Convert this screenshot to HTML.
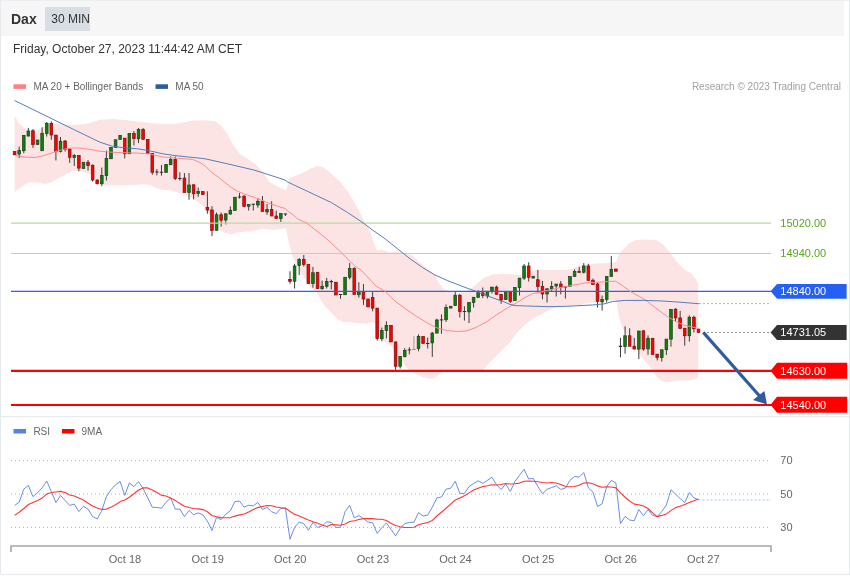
<!DOCTYPE html>
<html><head><meta charset="utf-8"><title>Dax 30 MIN</title>
<style>
html,body{margin:0;padding:0;background:#fff}
body{width:850px;height:576px;position:relative;overflow:hidden;font-family:"Liberation Sans",sans-serif}
svg text{font-family:"Liberation Sans",sans-serif}
.frame{position:absolute;left:0;top:0;width:848px;height:573px;border:1px solid #e6eaee;border-top-color:#eceff2}
.hdr{position:absolute;left:1px;top:1px;width:843px;height:35px;background:#f6f6f6}
.ttl{position:absolute;left:11px;top:11px;font-size:14px;font-weight:bold;color:#333;line-height:16px}
.btn{position:absolute;left:45px;top:7px;width:38.7px;padding-left:6.3px;height:24px;background:#d9dde4;color:#333;font-size:12px;line-height:24px;white-space:nowrap}
.date{position:absolute;left:13px;top:41px;font-size:12px;color:#333;line-height:16px}
</style></head><body>
<div class="frame"></div>
<div class="hdr"></div>
<div class="ttl">Dax</div>
<div class="btn">30 MIN</div>
<div class="date">Friday, October 27, 2023 11:44:42 AM CET</div>
<svg width="850" height="576" viewBox="0 0 850 576" style="position:absolute;left:0;top:0">
<polygon points="14.60,115.40 18.75,122.90 25.00,128.50 30.00,131.00 35.00,131.50 42.00,128.00 48.00,124.00 53.75,122.90 65.00,124.50 75.00,125.00 87.50,123.50 97.50,120.40 100.00,119.75 112.50,119.00 125.00,120.00 137.50,121.50 150.00,123.10 162.50,124.00 175.00,123.75 180.00,123.10 192.50,120.60 205.00,120.25 215.00,121.25 221.25,125.60 227.50,134.40 233.75,145.60 240.00,153.75 247.50,158.75 255.00,163.75 261.25,170.00 270.00,182.50 285.00,190.00 286.25,190.00 289.40,178.10 297.50,175.00 303.75,172.50 310.00,168.75 317.50,166.25 322.50,166.90 328.75,171.25 335.00,176.90 341.25,183.10 347.50,191.25 353.75,201.25 360.00,212.50 363.75,220.00 369.40,230.00 373.75,242.50 376.90,250.60 381.25,249.40 388.75,252.25 397.50,251.25 403.75,253.10 412.50,255.60 420.00,262.50 427.50,268.75 435.00,275.00 438.75,282.50 442.50,288.10 450.00,291.90 457.00,293.20 465.00,291.50 471.00,288.75 477.50,283.10 483.75,278.10 492.50,274.40 502.50,273.75 515.00,274.40 521.00,275.00 527.00,272.00 532.50,270.60 540.00,269.40 546.00,270.00 555.00,270.00 567.50,270.00 573.75,268.10 580.00,265.60 586.25,264.40 592.50,263.75 605.00,263.10 611.25,262.50 616.25,261.90 618.75,255.00 622.25,250.60 628.50,243.75 634.75,240.25 643.50,239.40 656.00,240.00 662.25,243.75 668.50,250.60 673.50,256.90 678.50,263.75 684.75,270.00 691.00,273.10 696.00,279.40 698.25,283.75 698.25,376.90 696.00,378.75 691.00,380.25 681.00,380.25 673.50,381.25 666.00,382.50 661.00,380.60 656.00,376.25 651.00,368.10 646.00,362.50 641.00,356.25 634.00,347.00 628.00,337.00 622.25,327.25 618.50,314.75 616.60,302.25 615.80,300.00 604.60,301.20 589.60,302.50 579.70,305.00 564.70,306.20 554.70,307.50 544.70,312.40 534.80,317.40 524.80,324.90 517.30,332.40 509.80,342.40 499.80,352.40 489.90,362.30 483.60,369.80 475.00,371.00 460.00,371.50 442.50,372.00 440.00,373.75 435.00,378.10 430.00,379.00 422.50,376.90 413.75,372.75 409.50,370.00 405.60,366.60 402.30,361.30 400.00,360.50 395.60,356.00 392.50,348.00 389.00,344.00 384.00,341.50 379.50,337.00 377.00,329.00 375.00,323.00 372.00,321.80 367.50,323.75 356.25,323.10 350.00,321.90 343.75,322.50 337.50,319.40 331.25,312.50 325.00,306.25 320.00,298.75 316.25,291.25 311.25,288.75 305.00,278.75 298.75,268.75 292.50,256.25 288.10,240.00 286.00,228.00 275.00,229.75 270.00,229.40 262.50,228.75 256.25,230.00 250.00,231.25 237.50,232.50 231.25,234.40 225.00,233.10 218.75,230.00 212.50,220.00 206.00,208.75 200.00,203.75 195.00,200.00 187.50,195.60 177.50,192.50 170.00,190.00 162.50,190.00 156.25,188.10 150.00,185.25 143.75,184.00 137.50,184.75 125.00,185.25 112.50,185.25 100.00,184.75 95.00,179.00 90.00,173.75 85.00,172.50 75.00,170.60 70.00,171.90 62.50,176.00 56.00,179.40 50.00,183.10 46.00,184.00 37.50,182.50 30.00,181.90 25.00,184.40 18.75,188.75 14.60,192.00" fill="#fde4e4"/>
<line x1="14.60" x2="14.60" y1="151.50" y2="155.00" stroke="#3c3c3c" stroke-width="1"/>
<rect x="13.25" y="151.60" width="2.7" height="3.15" fill="#ff0000" stroke="#7a1010" stroke-width="0.7"/>
<line x1="19.19" x2="19.19" y1="146.60" y2="158.10" stroke="#3c3c3c" stroke-width="1"/>
<rect x="17.84" y="150.40" width="2.7" height="3.70" fill="#0a820a" stroke="#1f3d1f" stroke-width="0.7"/>
<line x1="23.78" x2="23.78" y1="135.40" y2="153.25" stroke="#3c3c3c" stroke-width="1"/>
<rect x="22.43" y="135.40" width="2.7" height="15.35" fill="#0a820a" stroke="#1f3d1f" stroke-width="0.7"/>
<line x1="28.37" x2="28.37" y1="127.90" y2="136.60" stroke="#3c3c3c" stroke-width="1"/>
<rect x="27.02" y="131.00" width="2.7" height="5.00" fill="#0a820a" stroke="#1f3d1f" stroke-width="0.7"/>
<line x1="32.96" x2="32.96" y1="129.10" y2="147.90" stroke="#3c3c3c" stroke-width="1"/>
<rect x="31.61" y="130.75" width="2.7" height="13.75" fill="#ff0000" stroke="#7a1010" stroke-width="0.7"/>
<line x1="37.55" x2="37.55" y1="140.00" y2="144.50" stroke="#3c3c3c" stroke-width="1"/>
<rect x="36.20" y="140.00" width="2.7" height="4.50" fill="#0a820a" stroke="#1f3d1f" stroke-width="0.7"/>
<line x1="42.14" x2="42.14" y1="127.25" y2="150.75" stroke="#3c3c3c" stroke-width="1"/>
<rect x="40.79" y="133.25" width="2.7" height="17.50" fill="#0a820a" stroke="#1f3d1f" stroke-width="0.7"/>
<line x1="46.73" x2="46.73" y1="122.00" y2="136.60" stroke="#3c3c3c" stroke-width="1"/>
<rect x="45.38" y="123.50" width="2.7" height="10.00" fill="#0a820a" stroke="#1f3d1f" stroke-width="0.7"/>
<line x1="51.32" x2="51.32" y1="121.40" y2="139.75" stroke="#3c3c3c" stroke-width="1"/>
<rect x="49.97" y="123.50" width="2.7" height="11.50" fill="#ff0000" stroke="#7a1010" stroke-width="0.7"/>
<line x1="55.91" x2="55.91" y1="135.10" y2="160.40" stroke="#3c3c3c" stroke-width="1"/>
<rect x="54.56" y="135.10" width="2.7" height="16.50" fill="#ff0000" stroke="#7a1010" stroke-width="0.7"/>
<line x1="60.50" x2="60.50" y1="137.00" y2="152.50" stroke="#3c3c3c" stroke-width="1"/>
<rect x="59.15" y="141.25" width="2.7" height="10.15" fill="#0a820a" stroke="#1f3d1f" stroke-width="0.7"/>
<line x1="65.09" x2="65.09" y1="140.00" y2="151.60" stroke="#3c3c3c" stroke-width="1"/>
<rect x="63.74" y="141.00" width="2.7" height="8.50" fill="#ff0000" stroke="#7a1010" stroke-width="0.7"/>
<line x1="69.68" x2="69.68" y1="148.50" y2="162.90" stroke="#3c3c3c" stroke-width="1"/>
<rect x="68.33" y="149.10" width="2.7" height="8.15" fill="#ff0000" stroke="#7a1010" stroke-width="0.7"/>
<line x1="74.27" x2="74.27" y1="154.10" y2="166.00" stroke="#3c3c3c" stroke-width="1"/>
<rect x="72.92" y="155.40" width="2.7" height="2.10" fill="#0a820a" stroke="#1f3d1f" stroke-width="0.7"/>
<line x1="78.86" x2="78.86" y1="155.40" y2="171.25" stroke="#3c3c3c" stroke-width="1"/>
<rect x="77.51" y="155.40" width="2.7" height="12.70" fill="#ff0000" stroke="#7a1010" stroke-width="0.7"/>
<line x1="83.45" x2="83.45" y1="162.25" y2="168.50" stroke="#3c3c3c" stroke-width="1"/>
<rect x="82.10" y="162.25" width="2.7" height="6.25" fill="#0a820a" stroke="#1f3d1f" stroke-width="0.7"/>
<line x1="88.04" x2="88.04" y1="160.00" y2="170.60" stroke="#3c3c3c" stroke-width="1"/>
<rect x="86.69" y="162.25" width="2.7" height="3.35" fill="#ff0000" stroke="#7a1010" stroke-width="0.7"/>
<line x1="92.63" x2="92.63" y1="164.40" y2="181.50" stroke="#3c3c3c" stroke-width="1"/>
<rect x="91.28" y="165.25" width="2.7" height="14.75" fill="#ff0000" stroke="#7a1010" stroke-width="0.7"/>
<line x1="97.22" x2="97.22" y1="179.40" y2="184.40" stroke="#3c3c3c" stroke-width="1"/>
<rect x="95.87" y="180.00" width="2.7" height="3.75" fill="#ff0000" stroke="#7a1010" stroke-width="0.7"/>
<line x1="101.81" x2="101.81" y1="167.50" y2="186.25" stroke="#3c3c3c" stroke-width="1"/>
<rect x="100.46" y="175.60" width="2.7" height="8.15" fill="#0a820a" stroke="#1f3d1f" stroke-width="0.7"/>
<line x1="106.40" x2="106.40" y1="150.60" y2="180.60" stroke="#3c3c3c" stroke-width="1"/>
<rect x="105.05" y="158.50" width="2.7" height="17.10" fill="#0a820a" stroke="#1f3d1f" stroke-width="0.7"/>
<line x1="110.99" x2="110.99" y1="147.50" y2="158.75" stroke="#3c3c3c" stroke-width="1"/>
<rect x="109.64" y="147.50" width="2.7" height="11.25" fill="#0a820a" stroke="#1f3d1f" stroke-width="0.7"/>
<line x1="115.58" x2="115.58" y1="139.75" y2="147.50" stroke="#3c3c3c" stroke-width="1"/>
<rect x="114.23" y="139.75" width="2.7" height="7.75" fill="#0a820a" stroke="#1f3d1f" stroke-width="0.7"/>
<line x1="120.17" x2="120.17" y1="135.40" y2="139.40" stroke="#3c3c3c" stroke-width="1"/>
<rect x="118.82" y="135.40" width="2.7" height="4.00" fill="#0a820a" stroke="#1f3d1f" stroke-width="0.7"/>
<line x1="124.76" x2="124.76" y1="138.10" y2="158.50" stroke="#3c3c3c" stroke-width="1"/>
<rect x="123.41" y="138.10" width="2.7" height="15.65" fill="#ff0000" stroke="#7a1010" stroke-width="0.7"/>
<line x1="129.35" x2="129.35" y1="133.40" y2="153.75" stroke="#3c3c3c" stroke-width="1"/>
<rect x="128.00" y="133.40" width="2.7" height="20.35" fill="#0a820a" stroke="#1f3d1f" stroke-width="0.7"/>
<line x1="133.94" x2="133.94" y1="131.00" y2="145.40" stroke="#3c3c3c" stroke-width="1"/>
<rect x="132.59" y="133.40" width="2.7" height="5.10" fill="#ff0000" stroke="#7a1010" stroke-width="0.7"/>
<line x1="138.53" x2="138.53" y1="128.10" y2="143.10" stroke="#3c3c3c" stroke-width="1"/>
<rect x="137.18" y="129.60" width="2.7" height="9.15" fill="#0a820a" stroke="#1f3d1f" stroke-width="0.7"/>
<line x1="143.12" x2="143.12" y1="128.10" y2="139.40" stroke="#3c3c3c" stroke-width="1"/>
<rect x="141.77" y="129.60" width="2.7" height="9.80" fill="#ff0000" stroke="#7a1010" stroke-width="0.7"/>
<line x1="147.71" x2="147.71" y1="139.40" y2="153.50" stroke="#3c3c3c" stroke-width="1"/>
<rect x="146.36" y="139.40" width="2.7" height="14.10" fill="#ff0000" stroke="#7a1010" stroke-width="0.7"/>
<line x1="152.30" x2="152.30" y1="153.50" y2="174.75" stroke="#3c3c3c" stroke-width="1"/>
<rect x="150.95" y="153.50" width="2.7" height="18.75" fill="#ff0000" stroke="#7a1010" stroke-width="0.7"/>
<line x1="156.89" x2="156.89" y1="169.00" y2="175.40" stroke="#3c3c3c" stroke-width="1"/>
<rect x="155.19" y="171.50" width="3.4" height="1.00" fill="#3a2a2a"/>
<line x1="161.48" x2="161.48" y1="165.00" y2="175.60" stroke="#3c3c3c" stroke-width="1"/>
<rect x="159.78" y="171.75" width="3.4" height="1.00" fill="#3a2a2a"/>
<line x1="166.07" x2="166.07" y1="164.40" y2="172.50" stroke="#3c3c3c" stroke-width="1"/>
<rect x="164.72" y="164.40" width="2.7" height="8.10" fill="#0a820a" stroke="#1f3d1f" stroke-width="0.7"/>
<line x1="170.66" x2="170.66" y1="156.50" y2="164.75" stroke="#3c3c3c" stroke-width="1"/>
<rect x="169.31" y="159.40" width="2.7" height="5.35" fill="#0a820a" stroke="#1f3d1f" stroke-width="0.7"/>
<line x1="175.25" x2="175.25" y1="156.50" y2="180.00" stroke="#3c3c3c" stroke-width="1"/>
<rect x="173.90" y="159.40" width="2.7" height="19.10" fill="#ff0000" stroke="#7a1010" stroke-width="0.7"/>
<line x1="179.84" x2="179.84" y1="172.25" y2="180.60" stroke="#3c3c3c" stroke-width="1"/>
<rect x="178.14" y="178.00" width="3.4" height="1.00" fill="#3a2a2a"/>
<line x1="184.43" x2="184.43" y1="173.10" y2="192.50" stroke="#3c3c3c" stroke-width="1"/>
<rect x="183.08" y="178.10" width="2.7" height="14.40" fill="#ff0000" stroke="#7a1010" stroke-width="0.7"/>
<line x1="189.02" x2="189.02" y1="173.10" y2="199.75" stroke="#3c3c3c" stroke-width="1"/>
<rect x="187.67" y="185.00" width="2.7" height="7.50" fill="#0a820a" stroke="#1f3d1f" stroke-width="0.7"/>
<line x1="193.61" x2="193.61" y1="184.75" y2="199.40" stroke="#3c3c3c" stroke-width="1"/>
<rect x="192.26" y="184.75" width="2.7" height="9.00" fill="#ff0000" stroke="#7a1010" stroke-width="0.7"/>
<line x1="198.20" x2="198.20" y1="187.50" y2="196.90" stroke="#3c3c3c" stroke-width="1"/>
<rect x="196.85" y="191.50" width="2.7" height="2.00" fill="#0a820a" stroke="#1f3d1f" stroke-width="0.7"/>
<line x1="202.79" x2="202.79" y1="191.50" y2="194.50" stroke="#3c3c3c" stroke-width="1"/>
<rect x="201.44" y="191.50" width="2.7" height="3.00" fill="#ff0000" stroke="#7a1010" stroke-width="0.7"/>
<line x1="207.38" x2="207.38" y1="191.25" y2="213.75" stroke="#3c3c3c" stroke-width="1"/>
<rect x="206.03" y="207.50" width="2.7" height="2.50" fill="#ff0000" stroke="#7a1010" stroke-width="0.7"/>
<line x1="211.97" x2="211.97" y1="206.25" y2="236.25" stroke="#3c3c3c" stroke-width="1"/>
<rect x="210.62" y="210.00" width="2.7" height="20.40" fill="#ff0000" stroke="#7a1010" stroke-width="0.7"/>
<line x1="216.56" x2="216.56" y1="212.50" y2="230.40" stroke="#3c3c3c" stroke-width="1"/>
<rect x="215.21" y="214.75" width="2.7" height="15.65" fill="#0a820a" stroke="#1f3d1f" stroke-width="0.7"/>
<line x1="221.15" x2="221.15" y1="212.50" y2="226.50" stroke="#3c3c3c" stroke-width="1"/>
<rect x="219.80" y="214.75" width="2.7" height="5.50" fill="#ff0000" stroke="#7a1010" stroke-width="0.7"/>
<line x1="225.74" x2="225.74" y1="213.75" y2="224.40" stroke="#3c3c3c" stroke-width="1"/>
<rect x="224.39" y="213.75" width="2.7" height="6.25" fill="#0a820a" stroke="#1f3d1f" stroke-width="0.7"/>
<line x1="230.33" x2="230.33" y1="206.25" y2="214.75" stroke="#3c3c3c" stroke-width="1"/>
<rect x="228.98" y="210.25" width="2.7" height="3.75" fill="#0a820a" stroke="#1f3d1f" stroke-width="0.7"/>
<line x1="234.92" x2="234.92" y1="197.25" y2="210.40" stroke="#3c3c3c" stroke-width="1"/>
<rect x="233.57" y="197.25" width="2.7" height="13.15" fill="#0a820a" stroke="#1f3d1f" stroke-width="0.7"/>
<line x1="239.51" x2="239.51" y1="193.10" y2="198.50" stroke="#3c3c3c" stroke-width="1"/>
<rect x="237.81" y="196.50" width="3.4" height="1.00" fill="#3a2a2a"/>
<line x1="244.10" x2="244.10" y1="195.00" y2="207.25" stroke="#3c3c3c" stroke-width="1"/>
<rect x="242.75" y="196.25" width="2.7" height="10.25" fill="#ff0000" stroke="#7a1010" stroke-width="0.7"/>
<line x1="248.69" x2="248.69" y1="204.40" y2="210.60" stroke="#3c3c3c" stroke-width="1"/>
<rect x="247.34" y="204.40" width="2.7" height="1.85" fill="#0a820a" stroke="#1f3d1f" stroke-width="0.7"/>
<line x1="253.28" x2="253.28" y1="203.75" y2="210.60" stroke="#3c3c3c" stroke-width="1"/>
<rect x="251.58" y="203.75" width="3.4" height="1.00" fill="#3a2a2a"/>
<line x1="257.87" x2="257.87" y1="198.10" y2="207.75" stroke="#3c3c3c" stroke-width="1"/>
<rect x="256.52" y="201.25" width="2.7" height="3.75" fill="#0a820a" stroke="#1f3d1f" stroke-width="0.7"/>
<line x1="262.46" x2="262.46" y1="196.00" y2="211.50" stroke="#3c3c3c" stroke-width="1"/>
<rect x="261.11" y="201.25" width="2.7" height="10.25" fill="#ff0000" stroke="#7a1010" stroke-width="0.7"/>
<line x1="267.05" x2="267.05" y1="204.00" y2="214.75" stroke="#3c3c3c" stroke-width="1"/>
<rect x="265.70" y="209.40" width="2.7" height="2.50" fill="#0a820a" stroke="#1f3d1f" stroke-width="0.7"/>
<line x1="271.64" x2="271.64" y1="201.25" y2="216.00" stroke="#3c3c3c" stroke-width="1"/>
<rect x="270.29" y="209.40" width="2.7" height="6.60" fill="#ff0000" stroke="#7a1010" stroke-width="0.7"/>
<line x1="276.23" x2="276.23" y1="210.60" y2="218.50" stroke="#3c3c3c" stroke-width="1"/>
<rect x="274.88" y="216.00" width="2.7" height="2.50" fill="#ff0000" stroke="#7a1010" stroke-width="0.7"/>
<line x1="280.82" x2="280.82" y1="213.50" y2="221.90" stroke="#3c3c3c" stroke-width="1"/>
<rect x="279.47" y="213.50" width="2.7" height="5.00" fill="#0a820a" stroke="#1f3d1f" stroke-width="0.7"/>
<line x1="285.41" x2="285.41" y1="213.50" y2="216.00" stroke="#3c3c3c" stroke-width="1"/>
<rect x="283.71" y="213.50" width="3.4" height="1.00" fill="#3a2a2a"/>
<line x1="290.00" x2="290.00" y1="271.25" y2="283.75" stroke="#3c3c3c" stroke-width="1"/>
<rect x="288.65" y="279.40" width="2.7" height="1.85" fill="#ff0000" stroke="#7a1010" stroke-width="0.7"/>
<line x1="294.59" x2="294.59" y1="263.75" y2="288.50" stroke="#3c3c3c" stroke-width="1"/>
<rect x="293.24" y="266.00" width="2.7" height="15.25" fill="#0a820a" stroke="#1f3d1f" stroke-width="0.7"/>
<line x1="299.18" x2="299.18" y1="258.10" y2="275.00" stroke="#3c3c3c" stroke-width="1"/>
<rect x="297.83" y="259.40" width="2.7" height="6.20" fill="#0a820a" stroke="#1f3d1f" stroke-width="0.7"/>
<line x1="303.77" x2="303.77" y1="255.00" y2="266.50" stroke="#3c3c3c" stroke-width="1"/>
<rect x="302.42" y="259.40" width="2.7" height="5.00" fill="#ff0000" stroke="#7a1010" stroke-width="0.7"/>
<line x1="308.36" x2="308.36" y1="264.40" y2="283.50" stroke="#3c3c3c" stroke-width="1"/>
<rect x="307.01" y="264.40" width="2.7" height="19.10" fill="#ff0000" stroke="#7a1010" stroke-width="0.7"/>
<line x1="312.95" x2="312.95" y1="266.90" y2="287.75" stroke="#3c3c3c" stroke-width="1"/>
<rect x="311.60" y="272.75" width="2.7" height="10.75" fill="#0a820a" stroke="#1f3d1f" stroke-width="0.7"/>
<line x1="317.54" x2="317.54" y1="272.25" y2="288.50" stroke="#3c3c3c" stroke-width="1"/>
<rect x="316.19" y="272.25" width="2.7" height="16.25" fill="#ff0000" stroke="#7a1010" stroke-width="0.7"/>
<line x1="322.13" x2="322.13" y1="280.60" y2="289.75" stroke="#3c3c3c" stroke-width="1"/>
<rect x="320.78" y="286.25" width="2.7" height="2.50" fill="#0a820a" stroke="#1f3d1f" stroke-width="0.7"/>
<line x1="326.72" x2="326.72" y1="277.90" y2="288.50" stroke="#3c3c3c" stroke-width="1"/>
<rect x="325.37" y="281.60" width="2.7" height="4.65" fill="#0a820a" stroke="#1f3d1f" stroke-width="0.7"/>
<line x1="331.31" x2="331.31" y1="279.75" y2="289.40" stroke="#3c3c3c" stroke-width="1"/>
<rect x="329.61" y="281.00" width="3.4" height="1.25" fill="#3a2a2a"/>
<line x1="335.90" x2="335.90" y1="282.25" y2="295.00" stroke="#3c3c3c" stroke-width="1"/>
<rect x="334.55" y="282.25" width="2.7" height="12.75" fill="#ff0000" stroke="#7a1010" stroke-width="0.7"/>
<line x1="340.49" x2="340.49" y1="294.00" y2="298.75" stroke="#3c3c3c" stroke-width="1"/>
<rect x="338.79" y="294.00" width="3.4" height="1.00" fill="#3a2a2a"/>
<line x1="345.08" x2="345.08" y1="277.25" y2="294.75" stroke="#3c3c3c" stroke-width="1"/>
<rect x="343.73" y="277.25" width="2.7" height="17.50" fill="#0a820a" stroke="#1f3d1f" stroke-width="0.7"/>
<line x1="349.67" x2="349.67" y1="263.10" y2="279.40" stroke="#3c3c3c" stroke-width="1"/>
<rect x="348.32" y="268.50" width="2.7" height="8.75" fill="#0a820a" stroke="#1f3d1f" stroke-width="0.7"/>
<line x1="354.26" x2="354.26" y1="267.25" y2="294.60" stroke="#3c3c3c" stroke-width="1"/>
<rect x="352.91" y="268.50" width="2.7" height="26.10" fill="#ff0000" stroke="#7a1010" stroke-width="0.7"/>
<line x1="358.85" x2="358.85" y1="282.25" y2="297.75" stroke="#3c3c3c" stroke-width="1"/>
<rect x="357.50" y="291.90" width="2.7" height="2.85" fill="#0a820a" stroke="#1f3d1f" stroke-width="0.7"/>
<line x1="363.44" x2="363.44" y1="284.00" y2="305.00" stroke="#3c3c3c" stroke-width="1"/>
<rect x="362.09" y="291.90" width="2.7" height="7.10" fill="#ff0000" stroke="#7a1010" stroke-width="0.7"/>
<line x1="368.03" x2="368.03" y1="299.00" y2="306.90" stroke="#3c3c3c" stroke-width="1"/>
<rect x="366.68" y="299.00" width="2.7" height="7.90" fill="#ff0000" stroke="#7a1010" stroke-width="0.7"/>
<line x1="372.62" x2="372.62" y1="291.90" y2="311.25" stroke="#3c3c3c" stroke-width="1"/>
<rect x="371.27" y="297.50" width="2.7" height="10.60" fill="#ff0000" stroke="#7a1010" stroke-width="0.7"/>
<line x1="377.21" x2="377.21" y1="308.10" y2="340.60" stroke="#3c3c3c" stroke-width="1"/>
<rect x="375.86" y="308.10" width="2.7" height="30.40" fill="#ff0000" stroke="#7a1010" stroke-width="0.7"/>
<line x1="381.80" x2="381.80" y1="327.50" y2="341.25" stroke="#3c3c3c" stroke-width="1"/>
<rect x="380.45" y="330.40" width="2.7" height="8.35" fill="#0a820a" stroke="#1f3d1f" stroke-width="0.7"/>
<line x1="386.39" x2="386.39" y1="321.25" y2="338.50" stroke="#3c3c3c" stroke-width="1"/>
<rect x="385.04" y="325.40" width="2.7" height="5.00" fill="#0a820a" stroke="#1f3d1f" stroke-width="0.7"/>
<line x1="390.98" x2="390.98" y1="325.40" y2="341.90" stroke="#3c3c3c" stroke-width="1"/>
<rect x="389.63" y="325.40" width="2.7" height="16.50" fill="#ff0000" stroke="#7a1010" stroke-width="0.7"/>
<line x1="395.57" x2="395.57" y1="341.90" y2="369.75" stroke="#3c3c3c" stroke-width="1"/>
<rect x="394.22" y="341.90" width="2.7" height="24.35" fill="#ff0000" stroke="#7a1010" stroke-width="0.7"/>
<line x1="400.16" x2="400.16" y1="356.50" y2="368.50" stroke="#3c3c3c" stroke-width="1"/>
<rect x="398.81" y="356.50" width="2.7" height="9.75" fill="#0a820a" stroke="#1f3d1f" stroke-width="0.7"/>
<line x1="404.75" x2="404.75" y1="348.10" y2="357.50" stroke="#3c3c3c" stroke-width="1"/>
<rect x="403.40" y="350.40" width="2.7" height="6.10" fill="#0a820a" stroke="#1f3d1f" stroke-width="0.7"/>
<line x1="409.34" x2="409.34" y1="347.25" y2="354.40" stroke="#3c3c3c" stroke-width="1"/>
<rect x="407.64" y="349.40" width="3.4" height="1.00" fill="#3a2a2a"/>
<line x1="413.93" x2="413.93" y1="336.25" y2="349.60" stroke="#9a9a9a" stroke-width="1"/>
<rect x="412.23" y="348.90" width="3.4" height="1.00" fill="#888"/>
<line x1="418.52" x2="418.52" y1="334.40" y2="351.25" stroke="#3c3c3c" stroke-width="1"/>
<rect x="417.17" y="336.50" width="2.7" height="12.00" fill="#0a820a" stroke="#1f3d1f" stroke-width="0.7"/>
<line x1="423.11" x2="423.11" y1="336.50" y2="343.50" stroke="#3c3c3c" stroke-width="1"/>
<rect x="421.76" y="336.50" width="2.7" height="7.00" fill="#ff0000" stroke="#7a1010" stroke-width="0.7"/>
<line x1="427.70" x2="427.70" y1="337.50" y2="348.50" stroke="#3c3c3c" stroke-width="1"/>
<rect x="426.00" y="343.00" width="3.4" height="1.00" fill="#3a2a2a"/>
<line x1="432.29" x2="432.29" y1="331.90" y2="356.90" stroke="#3c3c3c" stroke-width="1"/>
<rect x="430.94" y="333.10" width="2.7" height="9.80" fill="#0a820a" stroke="#1f3d1f" stroke-width="0.7"/>
<line x1="436.88" x2="436.88" y1="318.75" y2="333.10" stroke="#3c3c3c" stroke-width="1"/>
<rect x="435.53" y="320.00" width="2.7" height="13.10" fill="#0a820a" stroke="#1f3d1f" stroke-width="0.7"/>
<line x1="441.47" x2="441.47" y1="314.40" y2="333.75" stroke="#3c3c3c" stroke-width="1"/>
<rect x="439.77" y="319.40" width="3.4" height="1.00" fill="#3a2a2a"/>
<line x1="446.06" x2="446.06" y1="304.40" y2="321.90" stroke="#3c3c3c" stroke-width="1"/>
<rect x="444.71" y="307.50" width="2.7" height="12.25" fill="#0a820a" stroke="#1f3d1f" stroke-width="0.7"/>
<line x1="450.65" x2="450.65" y1="306.25" y2="308.10" stroke="#3c3c3c" stroke-width="1"/>
<rect x="449.30" y="306.25" width="2.7" height="1.85" fill="#0a820a" stroke="#1f3d1f" stroke-width="0.7"/>
<line x1="455.24" x2="455.24" y1="291.90" y2="305.60" stroke="#3c3c3c" stroke-width="1"/>
<rect x="453.89" y="295.25" width="2.7" height="10.35" fill="#0a820a" stroke="#1f3d1f" stroke-width="0.7"/>
<line x1="459.83" x2="459.83" y1="294.00" y2="317.50" stroke="#3c3c3c" stroke-width="1"/>
<rect x="458.48" y="295.25" width="2.7" height="16.25" fill="#ff0000" stroke="#7a1010" stroke-width="0.7"/>
<line x1="464.42" x2="464.42" y1="306.25" y2="320.60" stroke="#3c3c3c" stroke-width="1"/>
<rect x="462.72" y="311.00" width="3.4" height="1.00" fill="#3a2a2a"/>
<line x1="469.01" x2="469.01" y1="302.50" y2="323.00" stroke="#3c3c3c" stroke-width="1"/>
<rect x="467.66" y="302.50" width="2.7" height="9.40" fill="#0a820a" stroke="#1f3d1f" stroke-width="0.7"/>
<line x1="473.60" x2="473.60" y1="297.25" y2="307.50" stroke="#3c3c3c" stroke-width="1"/>
<rect x="472.25" y="297.25" width="2.7" height="5.25" fill="#0a820a" stroke="#1f3d1f" stroke-width="0.7"/>
<line x1="478.19" x2="478.19" y1="290.25" y2="297.50" stroke="#3c3c3c" stroke-width="1"/>
<rect x="476.84" y="292.50" width="2.7" height="5.00" fill="#0a820a" stroke="#1f3d1f" stroke-width="0.7"/>
<line x1="482.78" x2="482.78" y1="287.50" y2="298.10" stroke="#3c3c3c" stroke-width="1"/>
<rect x="481.43" y="292.90" width="2.7" height="2.70" fill="#ff0000" stroke="#7a1010" stroke-width="0.7"/>
<line x1="487.37" x2="487.37" y1="291.25" y2="298.50" stroke="#3c3c3c" stroke-width="1"/>
<rect x="486.02" y="291.25" width="2.7" height="4.75" fill="#0a820a" stroke="#1f3d1f" stroke-width="0.7"/>
<line x1="491.96" x2="491.96" y1="287.10" y2="293.50" stroke="#3c3c3c" stroke-width="1"/>
<rect x="490.61" y="287.10" width="2.7" height="4.15" fill="#0a820a" stroke="#1f3d1f" stroke-width="0.7"/>
<line x1="496.55" x2="496.55" y1="285.60" y2="294.40" stroke="#3c3c3c" stroke-width="1"/>
<rect x="495.20" y="287.10" width="2.7" height="7.30" fill="#ff0000" stroke="#7a1010" stroke-width="0.7"/>
<line x1="501.14" x2="501.14" y1="294.40" y2="303.75" stroke="#3c3c3c" stroke-width="1"/>
<rect x="499.79" y="294.40" width="2.7" height="5.60" fill="#ff0000" stroke="#7a1010" stroke-width="0.7"/>
<line x1="505.73" x2="505.73" y1="291.90" y2="299.60" stroke="#3c3c3c" stroke-width="1"/>
<rect x="504.38" y="291.90" width="2.7" height="7.70" fill="#0a820a" stroke="#1f3d1f" stroke-width="0.7"/>
<line x1="510.32" x2="510.32" y1="291.90" y2="303.10" stroke="#3c3c3c" stroke-width="1"/>
<rect x="508.97" y="291.90" width="2.7" height="9.35" fill="#ff0000" stroke="#7a1010" stroke-width="0.7"/>
<line x1="514.91" x2="514.91" y1="287.50" y2="300.60" stroke="#3c3c3c" stroke-width="1"/>
<rect x="513.56" y="287.50" width="2.7" height="13.10" fill="#0a820a" stroke="#1f3d1f" stroke-width="0.7"/>
<line x1="519.50" x2="519.50" y1="278.10" y2="295.60" stroke="#3c3c3c" stroke-width="1"/>
<rect x="518.15" y="278.10" width="2.7" height="9.40" fill="#0a820a" stroke="#1f3d1f" stroke-width="0.7"/>
<line x1="524.09" x2="524.09" y1="264.00" y2="280.00" stroke="#3c3c3c" stroke-width="1"/>
<rect x="522.74" y="266.00" width="2.7" height="12.10" fill="#0a820a" stroke="#1f3d1f" stroke-width="0.7"/>
<line x1="528.68" x2="528.68" y1="262.25" y2="281.50" stroke="#3c3c3c" stroke-width="1"/>
<rect x="527.33" y="266.00" width="2.7" height="11.25" fill="#ff0000" stroke="#7a1010" stroke-width="0.7"/>
<line x1="533.27" x2="533.27" y1="276.25" y2="278.10" stroke="#3c3c3c" stroke-width="1"/>
<rect x="531.92" y="276.25" width="2.7" height="1.85" fill="#0a820a" stroke="#1f3d1f" stroke-width="0.7"/>
<line x1="537.86" x2="537.86" y1="270.00" y2="292.40" stroke="#3c3c3c" stroke-width="1"/>
<rect x="536.51" y="279.75" width="2.7" height="6.65" fill="#ff0000" stroke="#7a1010" stroke-width="0.7"/>
<line x1="542.45" x2="542.45" y1="281.00" y2="299.40" stroke="#3c3c3c" stroke-width="1"/>
<rect x="541.10" y="286.40" width="2.7" height="7.60" fill="#ff0000" stroke="#7a1010" stroke-width="0.7"/>
<line x1="547.04" x2="547.04" y1="288.75" y2="302.50" stroke="#3c3c3c" stroke-width="1"/>
<rect x="545.69" y="288.75" width="2.7" height="5.25" fill="#0a820a" stroke="#1f3d1f" stroke-width="0.7"/>
<line x1="551.63" x2="551.63" y1="281.25" y2="291.00" stroke="#3c3c3c" stroke-width="1"/>
<rect x="550.28" y="286.50" width="2.7" height="2.25" fill="#0a820a" stroke="#1f3d1f" stroke-width="0.7"/>
<line x1="556.22" x2="556.22" y1="284.00" y2="296.50" stroke="#3c3c3c" stroke-width="1"/>
<rect x="554.87" y="284.00" width="2.7" height="2.00" fill="#0a820a" stroke="#1f3d1f" stroke-width="0.7"/>
<line x1="560.81" x2="560.81" y1="281.00" y2="294.40" stroke="#3c3c3c" stroke-width="1"/>
<rect x="559.46" y="284.00" width="2.7" height="3.25" fill="#ff0000" stroke="#7a1010" stroke-width="0.7"/>
<line x1="565.40" x2="565.40" y1="286.25" y2="298.50" stroke="#3c3c3c" stroke-width="1"/>
<rect x="563.70" y="286.25" width="3.4" height="1.25" fill="#3a2a2a"/>
<line x1="569.99" x2="569.99" y1="276.60" y2="286.25" stroke="#3c3c3c" stroke-width="1"/>
<rect x="568.64" y="276.60" width="2.7" height="9.65" fill="#0a820a" stroke="#1f3d1f" stroke-width="0.7"/>
<line x1="574.58" x2="574.58" y1="269.40" y2="276.50" stroke="#3c3c3c" stroke-width="1"/>
<rect x="573.23" y="271.50" width="2.7" height="5.00" fill="#0a820a" stroke="#1f3d1f" stroke-width="0.7"/>
<line x1="579.17" x2="579.17" y1="266.90" y2="272.50" stroke="#3c3c3c" stroke-width="1"/>
<rect x="577.82" y="271.25" width="2.7" height="1.25" fill="#ff0000" stroke="#7a1010" stroke-width="0.7"/>
<line x1="583.76" x2="583.76" y1="263.10" y2="273.50" stroke="#3c3c3c" stroke-width="1"/>
<rect x="582.41" y="266.00" width="2.7" height="6.25" fill="#0a820a" stroke="#1f3d1f" stroke-width="0.7"/>
<line x1="588.35" x2="588.35" y1="263.75" y2="280.40" stroke="#3c3c3c" stroke-width="1"/>
<rect x="587.00" y="266.00" width="2.7" height="14.40" fill="#ff0000" stroke="#7a1010" stroke-width="0.7"/>
<line x1="592.94" x2="592.94" y1="278.50" y2="284.40" stroke="#3c3c3c" stroke-width="1"/>
<rect x="591.59" y="280.25" width="2.7" height="4.15" fill="#ff0000" stroke="#7a1010" stroke-width="0.7"/>
<line x1="597.53" x2="597.53" y1="282.50" y2="307.50" stroke="#3c3c3c" stroke-width="1"/>
<rect x="596.18" y="284.00" width="2.7" height="17.50" fill="#ff0000" stroke="#7a1010" stroke-width="0.7"/>
<line x1="602.12" x2="602.12" y1="295.60" y2="310.60" stroke="#3c3c3c" stroke-width="1"/>
<rect x="600.77" y="299.40" width="2.7" height="2.50" fill="#0a820a" stroke="#1f3d1f" stroke-width="0.7"/>
<line x1="606.71" x2="606.71" y1="276.50" y2="302.50" stroke="#3c3c3c" stroke-width="1"/>
<rect x="605.36" y="276.50" width="2.7" height="22.90" fill="#0a820a" stroke="#1f3d1f" stroke-width="0.7"/>
<line x1="611.30" x2="611.30" y1="256.00" y2="276.50" stroke="#3c3c3c" stroke-width="1"/>
<rect x="609.95" y="269.40" width="2.7" height="7.10" fill="#0a820a" stroke="#1f3d1f" stroke-width="0.7"/>
<line x1="615.89" x2="615.89" y1="269.00" y2="271.25" stroke="#3c3c3c" stroke-width="1"/>
<rect x="614.54" y="269.00" width="2.7" height="2.25" fill="#ff0000" stroke="#7a1010" stroke-width="0.7"/>
<line x1="620.48" x2="620.48" y1="337.90" y2="357.25" stroke="#3c3c3c" stroke-width="1"/>
<rect x="618.78" y="345.75" width="3.4" height="1.25" fill="#3a2a2a"/>
<line x1="625.07" x2="625.07" y1="326.25" y2="353.75" stroke="#3c3c3c" stroke-width="1"/>
<rect x="623.72" y="335.75" width="2.7" height="10.85" fill="#0a820a" stroke="#1f3d1f" stroke-width="0.7"/>
<line x1="629.66" x2="629.66" y1="328.25" y2="346.25" stroke="#3c3c3c" stroke-width="1"/>
<rect x="628.31" y="335.75" width="2.7" height="10.50" fill="#ff0000" stroke="#7a1010" stroke-width="0.7"/>
<line x1="634.25" x2="634.25" y1="337.90" y2="349.10" stroke="#3c3c3c" stroke-width="1"/>
<rect x="632.90" y="346.25" width="2.7" height="2.85" fill="#ff0000" stroke="#7a1010" stroke-width="0.7"/>
<line x1="638.84" x2="638.84" y1="331.00" y2="359.10" stroke="#3c3c3c" stroke-width="1"/>
<rect x="637.49" y="331.00" width="2.7" height="18.10" fill="#0a820a" stroke="#1f3d1f" stroke-width="0.7"/>
<line x1="643.43" x2="643.43" y1="330.75" y2="350.75" stroke="#3c3c3c" stroke-width="1"/>
<rect x="642.08" y="330.75" width="2.7" height="18.35" fill="#ff0000" stroke="#7a1010" stroke-width="0.7"/>
<line x1="648.02" x2="648.02" y1="335.40" y2="354.75" stroke="#3c3c3c" stroke-width="1"/>
<rect x="646.67" y="338.25" width="2.7" height="10.65" fill="#0a820a" stroke="#1f3d1f" stroke-width="0.7"/>
<line x1="652.61" x2="652.61" y1="338.25" y2="354.50" stroke="#3c3c3c" stroke-width="1"/>
<rect x="651.26" y="338.25" width="2.7" height="16.25" fill="#ff0000" stroke="#7a1010" stroke-width="0.7"/>
<line x1="657.20" x2="657.20" y1="354.10" y2="360.40" stroke="#3c3c3c" stroke-width="1"/>
<rect x="655.85" y="354.10" width="2.7" height="3.40" fill="#ff0000" stroke="#7a1010" stroke-width="0.7"/>
<line x1="661.79" x2="661.79" y1="349.75" y2="361.60" stroke="#3c3c3c" stroke-width="1"/>
<rect x="660.44" y="349.75" width="2.7" height="7.75" fill="#0a820a" stroke="#1f3d1f" stroke-width="0.7"/>
<line x1="666.38" x2="666.38" y1="339.10" y2="355.00" stroke="#3c3c3c" stroke-width="1"/>
<rect x="665.03" y="339.10" width="2.7" height="10.65" fill="#0a820a" stroke="#1f3d1f" stroke-width="0.7"/>
<line x1="670.97" x2="670.97" y1="309.50" y2="346.60" stroke="#3c3c3c" stroke-width="1"/>
<rect x="669.62" y="309.50" width="2.7" height="29.60" fill="#0a820a" stroke="#1f3d1f" stroke-width="0.7"/>
<line x1="675.56" x2="675.56" y1="308.25" y2="321.60" stroke="#3c3c3c" stroke-width="1"/>
<rect x="674.21" y="309.10" width="2.7" height="8.80" fill="#ff0000" stroke="#7a1010" stroke-width="0.7"/>
<line x1="680.15" x2="680.15" y1="311.00" y2="328.50" stroke="#3c3c3c" stroke-width="1"/>
<rect x="678.80" y="317.90" width="2.7" height="10.60" fill="#ff0000" stroke="#7a1010" stroke-width="0.7"/>
<line x1="684.74" x2="684.74" y1="328.25" y2="345.75" stroke="#3c3c3c" stroke-width="1"/>
<rect x="683.39" y="328.25" width="2.7" height="7.50" fill="#ff0000" stroke="#7a1010" stroke-width="0.7"/>
<line x1="689.33" x2="689.33" y1="315.40" y2="341.60" stroke="#3c3c3c" stroke-width="1"/>
<rect x="687.98" y="317.25" width="2.7" height="18.50" fill="#0a820a" stroke="#1f3d1f" stroke-width="0.7"/>
<line x1="693.92" x2="693.92" y1="315.75" y2="332.50" stroke="#3c3c3c" stroke-width="1"/>
<rect x="692.57" y="317.25" width="2.7" height="11.50" fill="#ff0000" stroke="#7a1010" stroke-width="0.7"/>
<line x1="698.51" x2="698.51" y1="329.10" y2="332.50" stroke="#3c3c3c" stroke-width="1"/>
<rect x="697.16" y="329.10" width="2.7" height="3.40" fill="#ff0000" stroke="#7a1010" stroke-width="0.7"/>
<line x1="11" x2="771" y1="223.15" y2="223.15" stroke="#b4dc9c" stroke-width="1.2"/>
<line x1="11" x2="771" y1="253.5" y2="253.5" stroke="#b4dc9c" stroke-width="1.2"/>
<line x1="11" x2="772" y1="291.3" y2="291.3" stroke="#2a62f0" stroke-width="1.3"/>
<line x1="11" x2="772" y1="370.8" y2="370.8" stroke="#ff0000" stroke-width="2.2"/>
<line x1="11" x2="772" y1="405" y2="405" stroke="#ff0000" stroke-width="2.2"/>
<polyline points="15.60,155.60 25.00,157.10 35.00,157.50 42.50,155.90 50.00,153.50 56.00,151.50 65.00,149.00 72.50,147.90 80.00,148.10 90.00,149.40 100.00,151.25 112.50,152.25 125.00,152.75 137.50,153.10 150.00,154.00 162.50,156.90 175.00,158.10 187.50,159.00 192.50,159.40 200.00,162.50 206.25,166.90 211.25,172.00 218.75,177.50 225.00,182.50 231.25,187.50 237.50,191.25 243.75,193.75 256.25,198.10 268.75,203.10 277.50,206.25 285.00,208.40 288.75,211.90 292.50,214.40 297.50,218.75 303.75,221.90 306.00,222.50 328.10,240.00 342.50,253.75 355.00,266.25 361.00,270.00 367.50,277.00 376.25,286.25 385.00,291.25 393.75,300.00 396.25,302.00 403.75,307.50 416.25,316.25 428.75,323.75 437.50,328.10 447.50,330.60 457.50,331.50 466.00,331.00 476.00,327.50 486.25,322.00 496.25,315.00 505.00,309.40 515.00,303.75 525.00,297.50 532.50,293.75 540.00,292.25 548.75,290.00 561.25,287.50 573.75,285.00 586.25,282.75 598.75,282.25 607.50,281.50 615.60,281.25 622.50,285.60 631.00,291.90 638.50,296.00 647.25,301.25 649.75,303.50 662.25,312.90 668.50,317.25 676.00,321.60 683.50,325.00 691.00,326.60 699.00,328.75" fill="none" stroke="#ff8a8a" stroke-width="1"/>
<polyline points="14.60,100.50 73.75,129.50 100.00,142.25 112.50,146.25 125.00,147.90 137.50,148.75 150.00,150.90 162.50,153.75 175.00,155.60 187.50,156.90 205.00,158.75 230.00,164.40 253.75,170.00 260.00,171.90 285.00,180.00 287.50,181.90 310.00,192.50 331.25,202.50 347.50,212.50 361.90,222.00 372.50,230.00 385.00,238.75 397.50,248.75 403.75,253.75 410.00,258.75 422.50,267.50 435.00,275.00 447.50,280.60 466.00,287.75 477.50,291.90 490.00,296.90 502.50,301.25 510.00,304.40 515.00,305.60 527.50,306.00 546.00,306.60 555.00,306.60 567.50,306.25 580.00,305.60 592.50,305.00 605.00,303.75 612.25,301.60 624.75,300.40 643.50,300.40 662.25,301.00 681.00,302.25 699.00,303.75" fill="none" stroke="#4d77b6" stroke-width="0.95"/>
<line x1="699" x2="771" y1="303.6" y2="303.6" stroke="#a3b9ea" stroke-width="1" stroke-dasharray="2 2"/>
<line x1="703" x2="771" y1="332.5" y2="332.5" stroke="#999" stroke-width="1" stroke-dasharray="2 2"/>
<line x1="703.3" y1="332.4" x2="762" y2="398.8" stroke="#2e5d9f" stroke-width="3.2"/>
<polygon points="767,404.5 753,400 764.4,391" fill="#2e5d9f"/>
<text x="780.3" y="227" fill="#58a61c" font-size="11">15020.00</text>
<text x="780.3" y="257.3" fill="#58a61c" font-size="11">14940.00</text>
<polygon points="770.6,291.30 777,283.90 846.6,283.90 846.6,298.70 777,298.70" fill="#2560f5"/>
<text x="780.3" y="295.20" fill="#fff" font-size="11">14840.00</text>
<polygon points="770.6,332.50 777,325.10 846.6,325.10 846.6,339.90 777,339.90" fill="#333333"/>
<text x="780.3" y="336.40" fill="#fff" font-size="11">14731.05</text>
<polygon points="770.6,370.80 777,362.80 847.2,362.80 847.2,378.80 777,378.80" fill="#ff0000"/>
<text x="780.3" y="374.70" fill="#fff" font-size="11">14630.00</text>
<polygon points="770.6,404.80 777,396.80 847.2,396.80 847.2,412.80 777,412.80" fill="#ff0000"/>
<text x="780.3" y="408.70" fill="#fff" font-size="11">14540.00</text>
<line x1="1" x2="849" y1="416.5" y2="416.5" stroke="#e6eaee" stroke-width="1"/>
<line x1="11" x2="771" y1="460.6" y2="460.6" stroke="#b0b0b0" stroke-width="1" stroke-dasharray="1 3"/>
<line x1="11" x2="771" y1="494.1" y2="494.1" stroke="#b0b0b0" stroke-width="1" stroke-dasharray="1 3"/>
<line x1="11" x2="771" y1="527.4" y2="527.4" stroke="#b0b0b0" stroke-width="1" stroke-dasharray="1 3"/>
<text x="780.3" y="464.1" fill="#666" font-size="11">70</text>
<text x="780.3" y="498" fill="#666" font-size="11">50</text>
<text x="780.3" y="531" fill="#666" font-size="11">30</text>
<line x1="698.5" x2="771" y1="500" y2="500" stroke="#a9bdf0" stroke-width="1" stroke-dasharray="2 2"/>
<polyline points="14.60,505.40 19.19,502.25 23.78,489.10 28.37,485.40 32.96,496.60 37.55,492.90 42.14,487.90 46.73,481.00 51.32,491.60 55.91,502.60 60.50,495.40 65.09,500.40 69.68,505.40 74.27,504.10 78.86,511.60 83.45,506.25 88.04,509.10 92.63,516.60 97.22,518.90 101.81,510.70 106.40,496.60 110.99,489.75 115.58,484.75 120.17,481.60 124.76,495.40 129.35,482.90 133.94,486.60 138.53,481.60 143.12,488.50 147.71,497.90 152.30,507.25 156.89,507.50 161.48,508.25 166.07,502.25 170.66,497.90 175.25,509.10 179.84,509.10 184.43,516.60 189.02,510.40 193.61,514.75 198.20,512.90 202.79,514.80 207.38,521.20 211.97,530.50 216.56,517.40 221.15,519.60 225.74,514.25 230.33,510.75 234.92,501.50 239.51,501.10 244.10,507.10 248.69,505.25 253.28,505.75 257.87,502.40 262.46,509.60 267.05,507.40 271.64,511.75 276.23,513.60 280.82,508.40 285.41,508.40 290.00,539.25 294.59,527.40 299.18,522.00 303.77,523.60 308.36,530.25 312.95,522.40 317.54,527.40 322.13,526.10 326.72,521.75 331.31,522.40 335.90,527.40 340.49,527.40 345.08,511.75 349.67,505.25 354.26,517.75 358.85,515.50 363.44,518.60 368.03,522.00 372.62,522.75 377.21,533.40 381.80,527.75 386.39,523.00 390.98,529.25 395.57,535.90 400.16,528.40 404.75,523.50 409.34,522.50 413.93,522.25 418.52,512.60 423.11,516.00 427.70,515.10 432.29,507.25 436.88,497.90 441.47,497.00 446.06,489.10 450.65,488.25 455.24,481.25 459.83,493.25 464.42,493.50 469.01,486.60 473.60,483.50 478.19,480.75 482.78,483.50 487.37,480.40 491.96,477.25 496.55,484.75 501.14,489.50 505.73,484.00 510.32,491.50 514.91,481.50 519.50,475.25 524.09,469.25 528.68,479.00 533.27,478.40 537.86,486.50 542.45,493.75 547.04,489.40 551.63,487.50 556.22,485.90 560.81,489.40 565.40,488.10 569.99,480.25 574.58,476.50 579.17,477.10 583.76,472.50 588.35,487.75 592.94,492.10 597.53,506.50 602.12,503.80 606.71,486.50 611.30,480.40 615.89,482.90 620.48,523.50 625.07,516.40 629.66,520.00 634.25,520.75 638.84,509.50 643.43,515.75 648.02,509.75 652.61,515.40 657.20,516.60 661.79,511.60 666.38,505.00 670.97,489.75 675.56,494.10 680.15,498.50 684.74,502.50 689.33,492.60 693.92,497.90 698.51,499.75" fill="none" stroke="#6088e6" stroke-width="0.95" stroke-linejoin="round"/>
<polyline points="14.60,515.40 19.19,512.25 23.78,508.50 28.37,504.50 32.96,502.50 37.55,500.40 42.14,497.90 46.73,494.10 51.32,492.50 55.91,492.00 60.50,491.40 65.09,492.50 69.68,495.00 74.27,496.00 78.86,497.90 83.45,500.00 88.04,503.25 92.63,506.00 97.22,507.90 101.81,509.40 106.40,509.10 110.99,507.25 115.58,504.75 120.17,501.60 124.76,500.00 129.35,497.25 133.94,493.75 138.53,490.00 143.12,487.90 147.71,487.90 152.30,490.00 156.89,492.50 161.48,495.40 166.07,496.00 170.66,497.90 175.25,500.40 179.84,503.50 184.43,506.25 189.02,507.50 193.61,508.50 198.20,508.90 202.79,509.60 207.38,511.80 211.97,515.50 216.56,516.75 221.15,517.60 225.74,517.75 230.33,517.60 234.92,516.10 239.51,514.90 244.10,514.00 248.69,512.00 253.28,509.50 257.87,507.60 262.46,506.50 267.05,505.50 271.64,505.75 276.23,507.00 280.82,507.75 285.41,508.00 290.00,511.50 294.59,514.25 299.18,516.10 303.77,518.00 308.36,520.10 312.95,521.75 317.54,523.25 322.13,524.90 326.72,526.50 331.31,524.50 335.90,524.90 340.49,525.25 345.08,524.00 349.67,521.50 354.26,520.75 358.85,519.50 363.44,518.60 368.03,518.50 372.62,518.60 377.21,519.25 381.80,519.25 386.39,520.50 390.98,523.25 395.57,525.50 400.16,526.80 404.75,527.50 409.34,527.50 413.93,527.25 418.52,524.75 423.11,523.50 427.70,522.60 432.29,520.40 436.88,516.00 441.47,512.25 446.06,508.25 450.65,504.10 455.24,500.00 459.83,497.90 464.42,495.75 469.01,492.90 473.60,490.00 478.19,488.25 482.78,486.60 487.37,485.75 491.96,484.75 496.55,485.00 501.14,484.45 505.73,483.50 510.32,484.00 514.91,483.75 519.50,483.10 524.09,481.25 528.68,481.10 533.27,481.25 537.86,481.75 542.45,482.50 547.04,483.00 551.63,482.50 556.22,483.00 560.81,484.60 565.40,486.50 569.99,486.75 574.58,486.50 579.17,485.25 583.76,483.00 588.35,482.75 592.94,483.75 597.53,485.90 602.12,487.30 606.71,486.90 611.30,487.00 615.89,487.90 620.48,492.90 625.07,497.25 629.66,501.00 634.25,504.10 638.84,504.75 643.43,506.00 648.02,508.50 652.61,512.90 657.20,516.60 661.79,515.40 666.38,513.90 670.97,510.60 675.56,507.60 680.15,506.25 684.74,504.50 689.33,502.60 693.92,500.75 698.51,499.10" fill="none" stroke="#ff3535" stroke-width="1.1" stroke-linejoin="round"/>
<path d="M11,552 V546 H771 V552" fill="none" stroke="#a6a6a6" stroke-width="1.6"/>
<text x="125.0" y="563.3" fill="#666" font-size="11" text-anchor="middle">Oct 18</text>
<text x="207.6" y="563.3" fill="#666" font-size="11" text-anchor="middle">Oct 19</text>
<text x="290.2" y="563.3" fill="#666" font-size="11" text-anchor="middle">Oct 20</text>
<text x="372.9" y="563.3" fill="#666" font-size="11" text-anchor="middle">Oct 23</text>
<text x="455.5" y="563.3" fill="#666" font-size="11" text-anchor="middle">Oct 24</text>
<text x="538.1" y="563.3" fill="#666" font-size="11" text-anchor="middle">Oct 25</text>
<text x="620.7" y="563.3" fill="#666" font-size="11" text-anchor="middle">Oct 26</text>
<text x="703.3" y="563.3" fill="#666" font-size="11" text-anchor="middle">Oct 27</text>
<rect x="13.5" y="84.3" width="12.5" height="4.6" fill="#ff8088"/>
<text x="33.4" y="90" fill="#666" font-size="10">MA 20 + Bollinger Bands</text>
<rect x="155.5" y="84.3" width="12.5" height="4.6" fill="#2e5d9f"/>
<text x="175.3" y="90" fill="#666" font-size="10">MA 50</text>
<text x="841" y="90" fill="#a0a0a0" font-size="10" text-anchor="end">Research © 2023 Trading Central</text>
<rect x="13.5" y="429" width="12.5" height="4.5" fill="#5580e4"/>
<text x="33.4" y="434.8" fill="#666" font-size="10">RSI</text>
<rect x="62" y="429" width="12.5" height="4.5" fill="#ff0000"/>
<text x="81.5" y="434.8" fill="#666" font-size="10">9MA</text>
</svg>
</body></html>
